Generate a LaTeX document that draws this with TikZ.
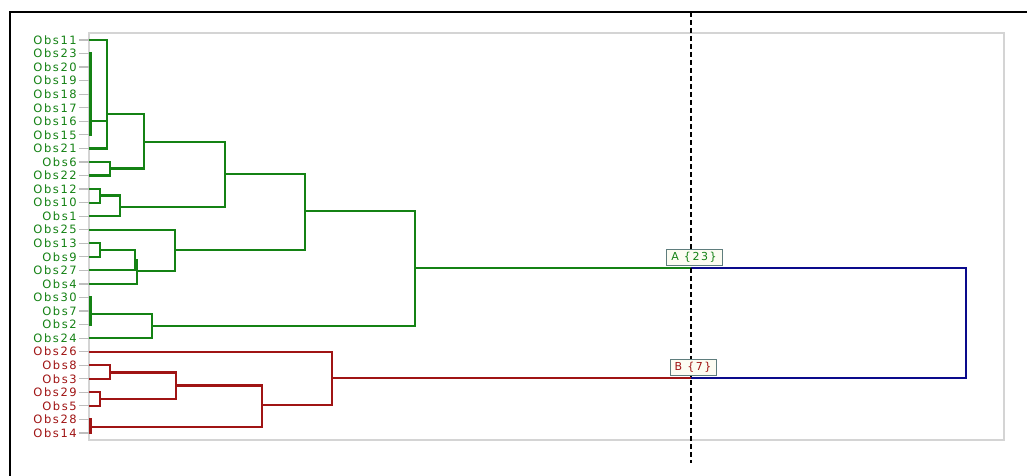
\documentclass[tikz,border=0pt]{standalone}
\usepackage{fontspec}
\setmainfont{DejaVu Sans}
\newfontfamily\obsfont[LetterSpace=14]{DejaVu Sans}
\definecolor{dgreen}{RGB}{20,130,20}
\definecolor{dred}{RGB}{160,20,20}
\definecolor{dblue}{RGB}{10,10,140}
\definecolor{plotgray}{RGB}{212,212,212}
\definecolor{tickgray}{RGB}{190,190,190}
\definecolor{boxgray}{RGB}{95,125,125}
\definecolor{boxfill}{RGB}{252,252,242}
\tikzset{
  link/.style={line width=2.2pt, line join=miter},
  glink/.style={link, draw=dgreen},
  rlink/.style={link, draw=dred},
  blink/.style={link, draw=dblue},
  leaf/.style={anchor=east, inner sep=0pt, font=\obsfont\fontsize{11.5}{13}\selectfont},
  tick/.style={draw=tickgray, line width=1.2pt},
  cutline/.style={draw=black, line width=2.8pt, dash pattern=on 5pt off 3pt},
  cutbox/.style={draw=boxgray, fill=boxfill, line width=1pt, inner sep=0pt,
    minimum height=16pt, font=\obsfont\fontsize{11}{13}\selectfont}
}
\begin{document}
\begin{tikzpicture}[x=1pt,y=-1pt]
\useasboundingbox (0,0) rectangle (1027,476);
\fill[white] (0,0) rectangle (1027,476);
\clip (0,0) rectangle (1027,476);
% outer frame (runs off the right and bottom edges)
\draw[black, line width=1.5pt] (10,12) rectangle (1060,500);
% plot area
\draw[plotgray, line width=2pt] (89,33) rectangle (1004,440);

% leaves: label, tick and end point on the axis
\foreach \name/\i/\col in {11/0/dgreen,23/1/dgreen,20/2/dgreen,19/3/dgreen,18/4/dgreen,
  17/5/dgreen,16/6/dgreen,15/7/dgreen,21/8/dgreen,6/9/dgreen,22/10/dgreen,12/11/dgreen,
  10/12/dgreen,1/13/dgreen,25/14/dgreen,13/15/dgreen,9/16/dgreen,27/17/dgreen,4/18/dgreen,
  30/19/dgreen,7/20/dgreen,2/21/dgreen,24/22/dgreen,26/23/dred,8/24/dred,3/25/dred,
  29/26/dred,5/27/dred,28/28/dred,14/29/dred}{
  \coordinate (o\name) at (89,{40+\i*13.55});
  \node[leaf, text=\col] (lab\name) at (77,{40+\i*13.55}) {Obs\name};
  \draw[tick] ([xshift=2pt]lab\name.east) -- (o\name);
}

% merge points of the green cluster
\coordinate (g1) at (90.5,121);
\coordinate (g2) at (107,114);
\coordinate (g3) at (110,168.5);
\coordinate (g4) at (144,142);
\coordinate (g5) at (100,195.5);
\coordinate (g6) at (120,207);
\coordinate (g7) at (225,174);
\coordinate (g8) at (100,250);
\coordinate (g9) at (135,260);
\coordinate (g10) at (137,271);
\coordinate (g11) at (175,250);
\coordinate (g12) at (305,211);
\coordinate (g13) at (90.5,314);
\coordinate (g14) at (152,326);
\coordinate (g15) at (415,268);
% merge points of the red cluster
\coordinate (r1) at (110,372.5);
\coordinate (r2) at (100,399);
\coordinate (r3) at (176,385.5);
\coordinate (r4) at (90.5,427);
\coordinate (r5) at (262,405);
\coordinate (r6) at (332,378);
% cut level and root
\coordinate (cutTop) at (691,12);
\coordinate (cutBot) at (691,463);
\coordinate (cutA) at (691,268);
\coordinate (cutB) at (691,378);
\coordinate (root) at (966,323);

\foreach \p/\c in {g1/o23,g1/o20,g1/o19,g1/o18,g1/o17,g1/o16,g1/o15,g2/o11,g2/g1,g2/o21,
  g3/o6,g3/o22,g4/g2,g4/g3,g5/o12,g5/o10,g6/g5,g6/o1,g7/g4,g7/g6,g8/o13,g8/o9,g9/g8,
  g9/o27,g10/g9,g10/o4,g11/o25,g11/g10,g12/g7,g12/g11,g13/o30,g13/o7,g13/o2,g14/g13,
  g14/o24,g15/g12,g15/g14}
  \draw[glink] (\p) |- (\c);
\foreach \p/\c in {r1/o8,r1/o3,r2/o29,r2/o5,r3/r1,r3/r2,r4/o28,r4/o14,r5/r3,r5/r4,
  r6/o26,r6/r5}
  \draw[rlink] (\p) |- (\c);

\draw[glink] (g15) -- (cutA);
\draw[rlink] (r6) -- (cutB);
\draw[blink] (root) |- (cutA);
\draw[blink] (root) |- (cutB);

% cut line and cluster tags
\draw[cutline] (cutTop) -- (cutBot);
\node[cutbox, text=dgreen, minimum width=56pt] (tagA) at (694,257) {A \{23\}};
\node[cutbox, text=dred, minimum width=46pt] (tagB) at (693,367) {B \{7\}};
\end{tikzpicture}
\end{document}
